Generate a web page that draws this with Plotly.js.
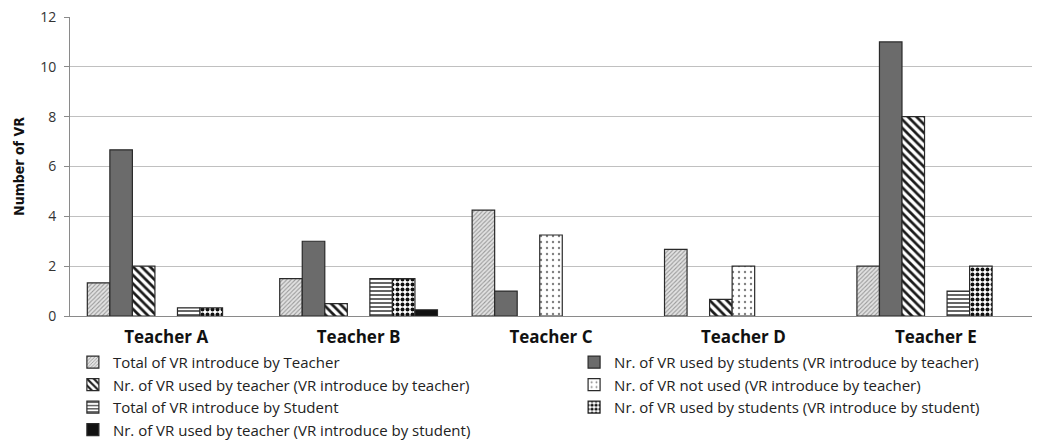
<!DOCTYPE html>
<html>
<head>
<meta charset="utf-8">
<script src="https://cdn.plot.ly/plotly-3.0.1.min.js"></script>
<style>html,body{margin:0;padding:0;background:#fff;}#chart{width:1051px;height:445px;}</style>
</head>
<body>
<div id="chart"></div>
<script>
const categories = ["Teacher A", "Teacher B", "Teacher C", "Teacher D", "Teacher E"];
const seriesNames = [
  "Total of VR introduce by Teacher",
  "Nr. of VR used by students (VR introduce by teacher)",
  "Nr. of VR used by teacher (VR introduce by teacher)",
  "Nr. of VR not used (VR introduce by teacher)",
  "Total of VR introduce by Student",
  "Nr. of VR used by students (VR introduce by student)",
  "Nr. of VR used by teacher (VR introduce by student)"
];
const totalByTeacher        = [1.33, 1.5, 4.25, 2.67, 2];
const usedByStudentsT       = [6.67, 3, 1, 0, 11];
const usedByTeacherT        = [2, 0.5, 0, 0.67, 8];
const notUsedT              = [0, 0, 3.25, 2, 0];
const totalByStudent        = [0.33, 1.5, 0, 0, 1];
const usedByStudentsS       = [0.33, 1.5, 0, 0, 2];
const usedByTeacherS        = [0, 0.25, 0, 0, 0];
const seriesValues = [totalByTeacher, usedByStudentsT, usedByTeacherT, notUsedT, totalByStudent, usedByStudentsS, usedByTeacherS];

const styles = [
  {color: "#d9d9d9", pattern: {shape: "/", fgcolor: "#9a9a9a", bgcolor: "#e2e2e2", size: 3, solidity: 0.35}},
  {color: "#6b6b6b", pattern: {shape: ""}},
  {color: "#ffffff", pattern: {shape: "\\", fgcolor: "#1a1a1a", bgcolor: "#ffffff", size: 6, solidity: 0.45}},
  {color: "#ffffff", pattern: {shape: ".", fgcolor: "#808080", bgcolor: "#ffffff", size: 6, solidity: 0.12}},
  {color: "#ffffff", pattern: {shape: "-", fgcolor: "#555555", bgcolor: "#ffffff", size: 4, solidity: 0.45}},
  {color: "#ffffff", pattern: {shape: ".", fgcolor: "#111111", bgcolor: "#ffffff", size: 5, solidity: 0.5}},
  {color: "#111111", pattern: {shape: ""}}
];

const traces = seriesNames.map((name, i) => ({
  type: "bar",
  name: name,
  x: categories,
  y: seriesValues[i].map(v => (v === 0 ? null : v)),
  legend: (i % 2 === 0) ? "legend" : "legend2",
  marker: {
    color: styles[i].color,
    pattern: styles[i].pattern,
    line: {color: "#2a2a2a", width: 1.2}
  },
  hoverinfo: "x+y+name"
}));

const legendCommon = {
  orientation: "v",
  xanchor: "left",
  yanchor: "top",
  itemwidth: 30,
  tracegroupgap: 0,
  borderwidth: 0,
  font: {size: 15, color: "#222"},
  traceorder: "normal",
  bgcolor: "rgba(0,0,0,0)"
};

const layout = {
  width: 1051,
  height: 445,
  margin: {l: 70, r: 19, t: 17, b: 129, autoexpand: false},
  paper_bgcolor: "#ffffff",
  plot_bgcolor: "#ffffff",
  barmode: "group",
  bargap: 0.18,
  bargroupgap: 0,
  font: {family: "Open Sans, DejaVu Sans, sans-serif", color: "#222"},
  xaxis: {
    type: "category",
    showgrid: false,
    showline: true,
    linecolor: "#8a8a8a",
    linewidth: 1,
    ticks: "",
    ticklabelstandoff: 6,
    tickfont: {size: 17, color: "#111", family: "Open Sans, sans-serif", weight: "bold"},
    fixedrange: true
  },
  yaxis: {
    range: [0, 12],
    dtick: 2,
    showgrid: true,
    gridcolor: "#c0c0c0",
    gridwidth: 1,
    showline: true,
    linecolor: "#8a8a8a",
    ticks: "outside",
    ticklen: 5,
    tickcolor: "#8a8a8a",
    ticklabelstandoff: 5,
    tickfont: {size: 14, color: "#333"},
    zeroline: false,
    title: {text: "Number of VR", font: {size: 14, family: "Liberation Sans Narrow, DejaVu Sans Condensed, sans-serif", weight: "bold", color: "#111"}, standoff: 12},
    fixedrange: true
  },
  legend: Object.assign({}, legendCommon, {x: 0.003, y: -0.1}),
  legend2: Object.assign({}, legendCommon, {x: 0.524, y: -0.1}),
  showlegend: true
};

Plotly.newPlot("chart", traces, layout, {displayModeBar: false, staticPlot: true});
</script>
</body>
</html>
